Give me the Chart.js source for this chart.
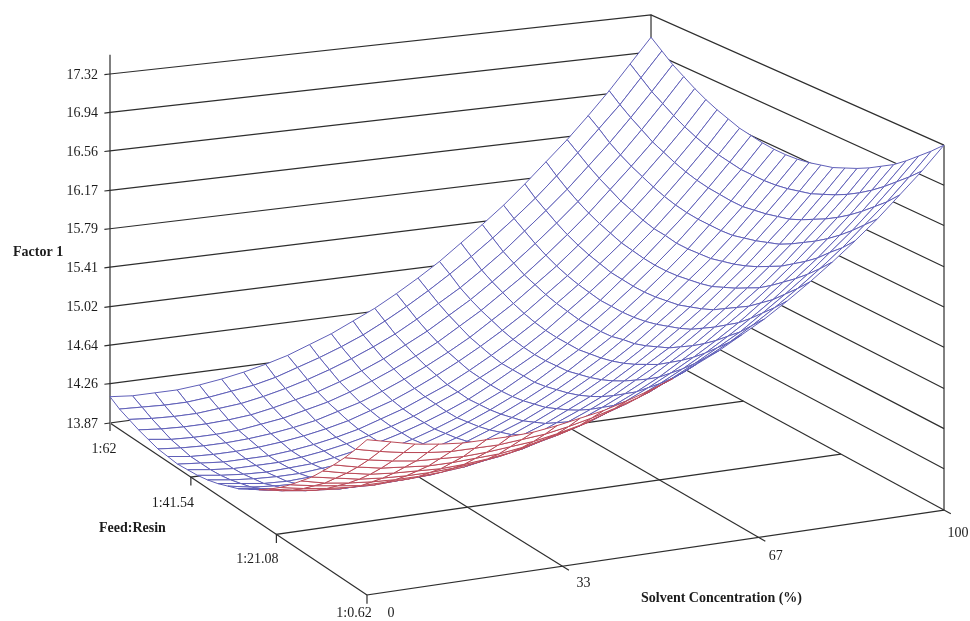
<!DOCTYPE html>
<html>
<head>
<meta charset="utf-8">
<title>Factor 1 surface</title>
<script src="https://cdn.jsdelivr.net/npm/chart.js@4"></script>
<style>
    html, body { margin: 0; padding: 0; background: #fff; }
    canvas { display: block; }
</style>
</head>
<body>
<canvas id="surface" width="970" height="621"></canvas>
<script>
const solvent = [0, 4, 8, 12, 16, 20, 24, 28, 32, 36, 40, 44, 48, 52, 56, 60, 64, 68, 72, 76, 80, 84, 88, 92, 96, 100];
const feed = [62, 59.54, 57.09, 54.63, 52.18, 49.72, 47.27, 44.81, 42.36, 39.9, 37.45, 34.99, 32.54, 30.08, 27.63, 25.17, 22.72, 20.26, 17.81, 15.35, 12.9, 10.44, 7.99, 5.53, 3.08, 0.62];

// one row per solvent value, one column per feed value
const factor1 = [
    [14.13,14.07,14.03,13.99,13.96,13.93,13.92,13.91,13.92,13.93,13.95,13.98,14.02,14.06,14.12,14.18,14.25,14.33,14.42,14.52,14.62,14.74,14.86,14.99,15.13,15.28],
    [14.11,14.06,14.01,13.97,13.93,13.91,13.89,13.89,13.89,13.90,13.92,13.95,13.98,14.03,14.08,14.14,14.21,14.29,14.38,14.47,14.58,14.69,14.81,14.94,15.08,15.23],
    [14.11,14.05,14.00,13.96,13.92,13.90,13.88,13.87,13.87,13.88,13.90,13.92,13.96,14.00,14.05,14.11,14.18,14.26,14.35,14.44,14.54,14.65,14.77,14.90,15.04,15.18],
    [14.11,14.05,14.00,13.96,13.92,13.90,13.88,13.87,13.87,13.87,13.89,13.91,13.95,13.99,14.04,14.10,14.16,14.24,14.32,14.42,14.52,14.63,14.75,14.87,15.01,15.15],
    [14.13,14.07,14.02,13.97,13.93,13.91,13.89,13.87,13.87,13.88,13.89,13.92,13.95,13.99,14.04,14.09,14.16,14.23,14.32,14.41,14.51,14.62,14.73,14.86,14.99,15.13],
    [14.16,14.10,14.04,13.99,13.96,13.93,13.91,13.89,13.89,13.89,13.91,13.93,13.96,14.00,14.04,14.10,14.16,14.24,14.32,14.41,14.51,14.61,14.73,14.85,14.99,15.13],
    [14.20,14.13,14.08,14.03,13.99,13.96,13.94,13.92,13.92,13.92,13.93,13.95,13.98,14.02,14.06,14.12,14.18,14.25,14.33,14.42,14.52,14.62,14.74,14.86,14.99,15.13],
    [14.25,14.18,14.13,14.08,14.04,14.00,13.98,13.96,13.96,13.96,13.97,13.99,14.01,14.05,14.09,14.15,14.21,14.28,14.36,14.44,14.54,14.64,14.75,14.88,15.01,15.14],
    [14.31,14.25,14.19,14.13,14.09,14.06,14.03,14.01,14.01,14.01,14.01,14.03,14.06,14.09,14.13,14.19,14.25,14.31,14.39,14.48,14.57,14.67,14.78,14.90,15.03,15.17],
    [14.39,14.32,14.26,14.20,14.16,14.12,14.10,14.08,14.07,14.07,14.07,14.09,14.11,14.15,14.19,14.24,14.30,14.36,14.44,14.52,14.61,14.72,14.83,14.94,15.07,15.21],
    [14.47,14.40,14.34,14.28,14.24,14.20,14.17,14.15,14.14,14.14,14.14,14.16,14.18,14.21,14.25,14.30,14.36,14.42,14.50,14.58,14.67,14.77,14.88,14.99,15.12,15.25],
    [14.57,14.49,14.43,14.37,14.33,14.29,14.26,14.24,14.23,14.22,14.22,14.24,14.26,14.29,14.33,14.37,14.43,14.49,14.57,14.65,14.74,14.83,14.94,15.06,15.18,15.31],
    [14.67,14.60,14.53,14.48,14.43,14.39,14.36,14.33,14.32,14.31,14.32,14.33,14.35,14.38,14.41,14.46,14.51,14.58,14.65,14.73,14.81,14.91,15.02,15.13,15.25,15.38],
    [14.79,14.72,14.65,14.59,14.54,14.50,14.47,14.44,14.43,14.42,14.42,14.43,14.45,14.48,14.51,14.56,14.61,14.67,14.74,14.82,14.90,15.00,15.10,15.21,15.34,15.46],
    [14.92,14.85,14.78,14.72,14.67,14.62,14.59,14.56,14.54,14.54,14.54,14.54,14.56,14.59,14.62,14.66,14.71,14.77,14.84,14.92,15.00,15.10,15.20,15.31,15.43,15.56],
    [15.06,14.99,14.91,14.85,14.80,14.76,14.72,14.69,14.67,14.66,14.66,14.67,14.68,14.71,14.74,14.78,14.83,14.89,14.96,15.03,15.11,15.21,15.31,15.42,15.54,15.66],
    [15.22,15.14,15.06,15.00,14.95,14.90,14.86,14.83,14.81,14.80,14.80,14.80,14.82,14.84,14.87,14.91,14.96,15.02,15.08,15.16,15.24,15.33,15.43,15.54,15.65,15.78],
    [15.38,15.30,15.22,15.16,15.10,15.06,15.02,14.99,14.97,14.95,14.95,14.95,14.96,14.99,15.01,15.05,15.10,15.15,15.22,15.29,15.37,15.46,15.56,15.66,15.78,15.90],
    [15.55,15.47,15.40,15.33,15.27,15.22,15.18,15.15,15.13,15.11,15.11,15.11,15.12,15.14,15.17,15.21,15.25,15.30,15.37,15.44,15.52,15.60,15.70,15.81,15.92,16.04],
    [15.74,15.65,15.58,15.51,15.45,15.40,15.36,15.33,15.30,15.29,15.28,15.28,15.29,15.31,15.33,15.37,15.41,15.46,15.53,15.60,15.67,15.76,15.85,15.96,16.07,16.19],
    [15.94,15.85,15.77,15.70,15.64,15.59,15.55,15.51,15.49,15.47,15.46,15.46,15.47,15.49,15.51,15.54,15.59,15.64,15.70,15.76,15.84,15.93,16.02,16.12,16.23,16.35],
    [16.14,16.06,15.98,15.91,15.85,15.79,15.75,15.71,15.68,15.67,15.65,15.65,15.66,15.67,15.70,15.73,15.77,15.82,15.88,15.94,16.02,16.10,16.19,16.30,16.40,16.52],
    [16.36,16.28,16.19,16.12,16.06,16.01,15.96,15.92,15.89,15.87,15.86,15.86,15.86,15.87,15.90,15.93,15.97,16.01,16.07,16.14,16.21,16.29,16.38,16.48,16.59,16.70],
    [16.59,16.50,16.42,16.35,16.28,16.23,16.18,16.14,16.11,16.09,16.08,16.07,16.07,16.09,16.11,16.14,16.17,16.22,16.28,16.34,16.41,16.49,16.58,16.68,16.78,16.90],
    [16.84,16.75,16.66,16.59,16.52,16.46,16.41,16.37,16.34,16.32,16.30,16.30,16.30,16.31,16.33,16.36,16.39,16.44,16.49,16.55,16.62,16.70,16.79,16.89,16.99,17.10],
    [17.09,17.00,16.91,16.84,16.77,16.71,16.66,16.62,16.58,16.56,16.54,16.53,16.53,16.54,16.56,16.59,16.62,16.67,16.72,16.78,16.85,16.92,17.01,17.11,17.21,17.32]
];

const factorTicks = [13.87, 14.26, 14.64, 15.02, 15.41, 15.79, 16.17, 16.56, 16.94, 17.32];
const feedTicks = [62, 41.54, 21.08, 0.62];
const feedTickLabels = ['1:62', '1:41.54', '1:21.08', '1:0.62'];
const solventTicks = [0, 33, 67, 100];

// camera of the 3D view, fitted to the floor corners of the box
const perspS = 0.03807;
const perspF = -0.08172;
const pxPerUnit = 101.16;

function project(s, f, z) {
    const u = s / 100;
    const v = (62 - f) / 61.38;
    const w = 1 + perspS * u + perspF * v;
    return {
        x: (110 + 565.8 * u + 227 * v) / w,
        y: (423 - 58.6 * u + 123.4 * v - (z - 13.87) * pxPerUnit) / w
    };
}

function lineSet(points, color, width) {
    return {
        data: points,
        showLine: true,
        borderColor: color,
        borderWidth: width,
        pointRadius: 0,
        fill: false
    };
}

function signedArea(p) {
    let sum = 0;
    for (let k = 0; k < 4; k++) {
        sum += p[k].x * p[k + 1].y - p[k + 1].x * p[k].y;
    }
    return sum / 2;
}

const datasets = [];

// the first dataset is painted last, so go from the nearest cell to the farthest
for (let i = 0; i < solvent.length - 1; i++) {
    for (let j = feed.length - 2; j >= 0; j--) {
        const cell = [
            project(solvent[i], feed[j], factor1[i][j]),
            project(solvent[i + 1], feed[j], factor1[i + 1][j]),
            project(solvent[i + 1], feed[j + 1], factor1[i + 1][j + 1]),
            project(solvent[i], feed[j + 1], factor1[i][j + 1])
        ];
        cell.push(cell[0]);
        const color = signedArea(cell) >= 0 ? '#5f5fb8' : '#bb4a58';
        const set = lineSet(cell, color, 1);
        set.fill = 'shape';
        set.backgroundColor = '#ffffff';
        datasets.push(set);
    }
}

const wallColor = '#2e2e2e';
const zFloor = factorTicks[0];
const zTop = factorTicks[factorTicks.length - 1];

// walls, the lowest tick only gets its tick mark because the floor draws the rest
factorTicks.forEach(function(z) {
    if (z === zFloor) {
        datasets.push(lineSet([project(-1, 62, z), project(0, 62, z)], wallColor, 1.2));
    } else {
        datasets.push(lineSet([project(-1, 62, z), project(0, 62, z), project(100, 62, z), project(100, 0.62, z)], wallColor, 1.2));
    }
});
datasets.push(lineSet([project(100, 62, zFloor), project(100, 62, zTop)], wallColor, 1.2));
datasets.push(lineSet([project(100, 0.62, zFloor), project(100, 0.62, zTop)], wallColor, 1.2));
datasets.push(lineSet([project(0, 62, 13.8), project(0, 62, 17.51)], '#808080', 2));

// floor
solventTicks.forEach(function(s) {
    const end = s === 0 ? 0.62 : -0.7;
    datasets.push(lineSet([project(s, 62, zFloor), project(s, end, zFloor)], wallColor, 1.2));
});
feedTicks.forEach(function(f) {
    datasets.push(lineSet([project(0, f, 13.79), project(0, f, zFloor), project(100, f, zFloor)], wallColor, 1.2));
});

const texts = [];
factorTicks.forEach(function(z) {
    const p = project(0, 62, z);
    texts.push({ text: z.toFixed(2), x: p.x - 12, y: p.y + 1, align: 'right' });
});
const feedLabelShift = [[-6, 26], [-18, 26], [-19, 25], [-13, 18]];
feedTicks.forEach(function(f, k) {
    const p = project(0, f, zFloor);
    texts.push({ text: feedTickLabels[k], x: p.x + feedLabelShift[k][0], y: p.y + feedLabelShift[k][1], align: 'center' });
});
const solventLabelShift = [[24, 18], [21, 17], [17, 19], [14, 23]];
solventTicks.forEach(function(s, k) {
    const p = project(s, 0.62, zFloor);
    texts.push({ text: String(s), x: p.x + solventLabelShift[k][0], y: p.y + solventLabelShift[k][1], align: 'center' });
});
texts.push({ text: 'Factor 1', x: 13, y: 252, align: 'left', bold: true });
texts.push({ text: 'Feed:Resin', x: 99, y: 528, align: 'left', bold: true });
texts.push({ text: 'Solvent Concentration (%)', x: 641, y: 598, align: 'left', bold: true });

const textPlugin = {
    id: 'surfaceText',
    afterDraw: function(chart) {
        const ctx = chart.ctx;
        ctx.save();
        ctx.fillStyle = '#1c1c1c';
        ctx.textBaseline = 'middle';
        texts.forEach(function(t) {
            ctx.font = (t.bold ? 'bold 14px' : '14px') + ' "Liberation Serif"';
            ctx.textAlign = t.align;
            ctx.fillText(t.text, chart.scales.x.getPixelForValue(t.x), chart.scales.y.getPixelForValue(t.y));
        });
        ctx.restore();
    }
};

new Chart(document.getElementById('surface'), {
    type: 'scatter',
    data: { datasets: datasets },
    plugins: [textPlugin],
    options: {
        responsive: false,
        animation: false,
        events: [],
        layout: { padding: 0 },
        plugins: {
            legend: { display: false },
            title: { display: false },
            tooltip: { enabled: false }
        },
        scales: {
            x: { type: 'linear', display: false, min: 0, max: 970 },
            y: { type: 'linear', display: false, min: 0, max: 621, reverse: true }
        }
    }
});
</script>
</body>
</html>
